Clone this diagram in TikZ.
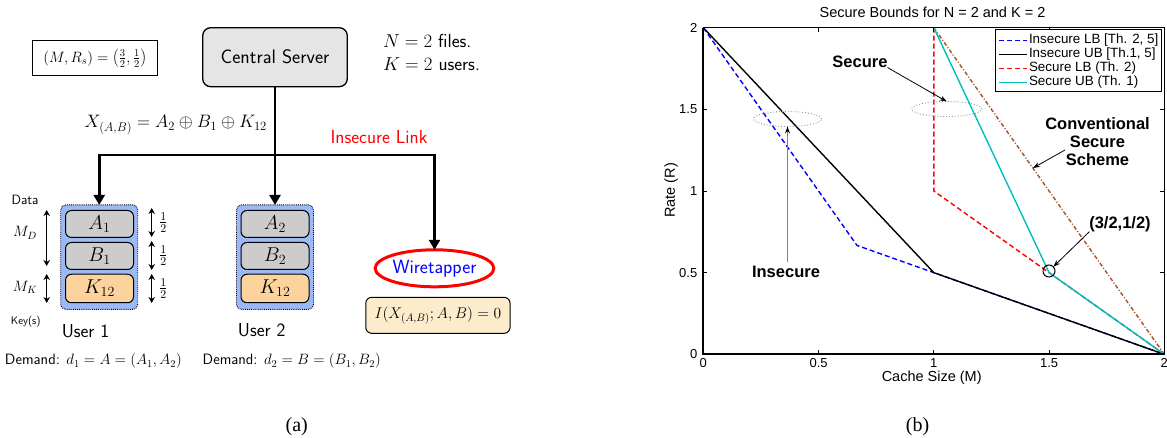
\RequirePackage{fix-cm}
\documentclass[tikz,border=0pt]{standalone}
\usepackage{fontspec}
\newfontfamily\arialf{Liberation Sans}
\newfontfamily\timesf{Liberation Serif}
\usetikzlibrary{arrows.meta,shapes.geometric}
\definecolor{servergray}{RGB}{229,229,229}
\definecolor{userblue}{RGB}{155,185,248}
\definecolor{cellgray}{RGB}{204,204,204}
\definecolor{cellorange}{RGB}{252,211,156}
\definecolor{notebeige}{RGB}{252,236,204}
\definecolor{plotcyan}{RGB}{0,191,191}
\definecolor{plotbrown}{RGB}{165,82,40}
\definecolor{ellgray}{RGB}{150,150,150}
\begin{document}
\begin{tikzpicture}[x=1pt,y=-1pt,
  every node/.style={inner sep=0pt, outer sep=0pt},
  sfbig/.style={font=\sffamily\fontsize{18.8}{22}\selectfont},
  link/.style={line width=2.6pt},
  linkarrow/.style={line width=2.6pt,-{Triangle[length=10pt,width=11pt]}},
  dimarrow/.style={line width=1.3pt,{Stealth[length=6pt,width=6.5pt]}-{Stealth[length=6pt,width=6.5pt]}},
  userbox/.style={draw, densely dotted, line width=0.9pt, fill=userblue, rounded corners=5pt, minimum width=77pt, minimum height=104.5pt},
  cellbox/.style={draw, line width=1pt, rounded corners=6pt, minimum width=68pt, minimum height=27pt, font=\fontsize{20}{23}\selectfont},
  datacell/.style={cellbox, fill=cellgray},
  keycell/.style={cellbox, fill=cellorange, minimum height=28.5pt},
  halflbl/.style={font=\fontsize{17}{19}\selectfont},
  plotfont/.style={font=\arialf\fontsize{13}{15}\selectfont},
  legfont/.style={font=\arialf\fontsize{13.4}{15}\selectfont},
  boldlbl/.style={font=\arialf\bfseries\fontsize{16.5}{18}\selectfont},
  annarrow/.style={line width=0.8pt,-{Stealth[length=7pt,width=5pt]}},
  ellmark/.style={draw=ellgray, dotted, line width=0.9pt, ellipse, minimum width=68pt, minimum height=15pt},
  plotline/.style={line width=1.4pt},
  mdash/.style={dash pattern=on 5pt off 3pt},
]
\useasboundingbox (0,0) rectangle (1167,438);

% ---------------- panel (a) ----------------
\node[draw, line width=1.3pt, rounded corners=8pt, fill=servergray, minimum width=144.6pt, minimum height=59pt, font=\sffamily\fontsize{19.5}{22}\selectfont] (server) at (275,57.2) {Central Server};
\node[draw, line width=0.9pt, minimum width=124.6pt, minimum height=35.3pt, font=\fontsize{15}{18}\selectfont] (mr) at (95,58.3) {$(M,R_s)=\left(\frac{3}{2},\frac{1}{2}\right)$};
\node[sfbig, anchor=base west] (nfiles) at (383,47.3) {$N=2$ files.};
\node[sfbig, anchor=base west] (kusers) at (383,71) {$K=2$ users.};
\node[font=\fontsize{18}{21}\selectfont] (xeq) at (175.8,125) {$X_{(A,B)}=A_2\oplus B_1\oplus K_{12}$};
\node[sfbig, text=red] (ilink) at (379,137) {Insecure Link};

\coordinate (hub) at (275,155);

\node[userbox] (u1) at (99.2,257.2) {};
\node[datacell] (a1) at (99.5,224) {$A_1$};
\node[datacell] (b1) at (99.5,256) {$B_1$};
\node[keycell] (k1) at (99.5,288.5) {$K_{12}$};

\node[userbox] (u2) at (275,257.2) {};
\node[datacell] (a2) at (275,224) {$A_2$};
\node[datacell] (b2) at (275,256) {$B_2$};
\node[keycell] (k2) at (275,288.5) {$K_{12}$};

\node[draw=red, line width=3pt, ellipse, minimum width=101pt, minimum height=37pt, font=\sffamily\fontsize{19.2}{22}\selectfont, text=blue] (wt) at (434.5,268.3) {Wiretapper};
\node[draw, line width=1pt, rounded corners=6pt, fill=notebeige, minimum width=144.3pt, minimum height=36pt, font=\fontsize{15.5}{18}\selectfont] (leak) at (437.9,315.3) {$I(X_{(A,B)};A,B)=0$};

\draw[link] (server.south) -- (hub);
\draw[linkarrow] (hub) -| (u1.north);
\draw[linkarrow] (hub) -- (u2.north);
\draw[linkarrow] (hub) -| (wt.north);

\node[font=\sffamily\fontsize{13.5}{15}\selectfont] (data) at (25,200) {Data};
\node[font=\fontsize{15}{17}\selectfont] (md) at (25,233) {$M_D$};
\node[font=\fontsize{15}{17}\selectfont] (mk) at (25,287) {$M_K$};
\node[font=\sffamily\fontsize{11}{13}\selectfont] (keys) at (25.7,321.7) {Key(s)};
\draw[dimarrow] (46.7,210) -- (46.7,266);
\draw[dimarrow] (46.7,274) -- (46.7,303);
\draw[dimarrow] (151.7,208) -- (151.7,237);
\draw[dimarrow] (151.7,241) -- (151.7,270);
\draw[dimarrow] (151.7,274) -- (151.7,303);
\node[halflbl] (h1) at (163.3,222.5) {$\frac{1}{2}$};
\node[halflbl] (h2) at (163.3,255.5) {$\frac{1}{2}$};
\node[halflbl] (h3) at (163.3,288.5) {$\frac{1}{2}$};

\node[sfbig] (user1) at (85.5,330.7) {User 1};
\node[sfbig] (user2) at (261.7,330.4) {User 2};
\node[font=\sffamily\fontsize{15}{17}\selectfont, anchor=west] (dem1) at (5,361) {Demand: $d_1=A=(A_1,A_2)$};
\node[font=\sffamily\fontsize{15}{17}\selectfont, anchor=west] (dem2) at (202.7,361) {Demand: $d_2=B=(B_1,B_2)$};
\node[font=\timesf\fontsize{20}{24}\selectfont] (capa) at (296.7,426.7) {(a)};

% ---------------- panel (b) ----------------
\begin{scope}[shift={(703.3pt,-354.3pt)}, x=230.5pt, y=163.3pt]
  \draw[plotline, plotbrown, dash pattern=on 4pt off 2pt on 1pt off 2pt] (1,2) -- (2,0);
  \draw[plotline, red, mdash] (1,2) -- (1,1) -- (1.5,0.5) -- (2,0);
  \draw[plotline, blue, mdash] (0,2) -- (0.6667,0.6667) -- (1,0.5) -- (2,0);
  \draw[plotline, black] (0,2) -- (1,0.5) -- (2,0);
  \draw[plotline, plotcyan] (1,2) -- (1.5,0.5) -- (2,0);
  \draw[line width=1.1pt] (0,0) rectangle (2,2);
  \draw[line width=1.8pt] (0,2) -- (0,0) -- (2,0);
  \foreach \v/\t/\n in {0/0/a,0.5/0.5/b,1/1/c,1.5/1.5/d,2/2/e} {
    \draw[line width=0.8pt] (\v,0) -- ++(0pt,4pt);
    \draw[line width=0.8pt] (\v,2) -- ++(0pt,-4pt);
    \draw[line width=0.8pt] (0,\v) -- ++(4pt,0pt);
    \draw[line width=0.8pt] (2,\v) -- ++(-4pt,0pt);
    \node[plotfont, anchor=north, yshift=-4pt] (xt\n) at (\v,0) {\t};
    \node[plotfont, anchor=east, xshift=-6pt] (yt\n) at (0,\v) {\t};
  }
\end{scope}

\node[font=\arialf\fontsize{14.5}{17}\selectfont] (title) at (932.5,12.7) {Secure Bounds for N = 2 and K = 2};
\node[font=\arialf\fontsize{14.5}{17}\selectfont, rotate=90] (ylab) at (671,190.5) {Rate (R)};
\node[font=\arialf\fontsize{14.5}{17}\selectfont] (xlab) at (931.7,377.7) {Cache Size (M)};
\node[font=\timesf\fontsize{20}{24}\selectfont] (capb) at (917.5,426.7) {(b)};

% legend
\node[draw, fill=white, line width=0.9pt, minimum width=166pt, minimum height=62.4pt] (legend) at (1078,60.5) {};
\draw[plotline, blue, mdash] (999,40.5) -- (1027,40.5);
\draw[plotline, black] (999,54.5) -- (1027,54.5);
\draw[plotline, red, mdash] (999,68.5) -- (1027,68.5);
\draw[plotline, plotcyan] (999,82.5) -- (1027,82.5);
\node[legfont, anchor=west] (lg1) at (1029,40.5) {Insecure LB [Th. 2, 5]};
\node[legfont, anchor=west] (lg2) at (1029,54.5) {Insecure UB [Th.1, 5]};
\node[legfont, anchor=west] (lg3) at (1029,68.5) {Secure LB (Th. 2)};
\node[legfont, anchor=west] (lg4) at (1029,82.5) {Secure UB (Th. 1)};

% annotations
\node[ellmark] (e1) at (787.5,119) {};
\node[ellmark, minimum width=70pt] (e2) at (946.7,109) {};
\node[boldlbl] (secure) at (860,61.7) {Secure};
\draw[annarrow] (secure.south east) -- (e2.north);
\node[boldlbl, align=center] (conv) at (1097.5,142) {Conventional\\Secure\\Scheme};
\coordinate (convtail) at (1065,150);
\coordinate (convhead) at (1033,168);
\draw[annarrow] (convtail) -- (convhead);
\node[boldlbl] (insec) at (786,272) {Insecure};
\draw[line width=1pt, draw=gray, -{Stealth[length=7pt,width=5pt,color=black]}, shorten <=4pt] (e1.south |- insec.north) -- (e1.south);
\node[boldlbl] (ptlbl) at (1120,224) {(3/2,1/2)};
\node[draw, circle, line width=1pt, minimum size=12pt] (pt) at (1049,271) {};
\draw[annarrow] (ptlbl.south west) -- (pt);
\end{tikzpicture}
\end{document}
